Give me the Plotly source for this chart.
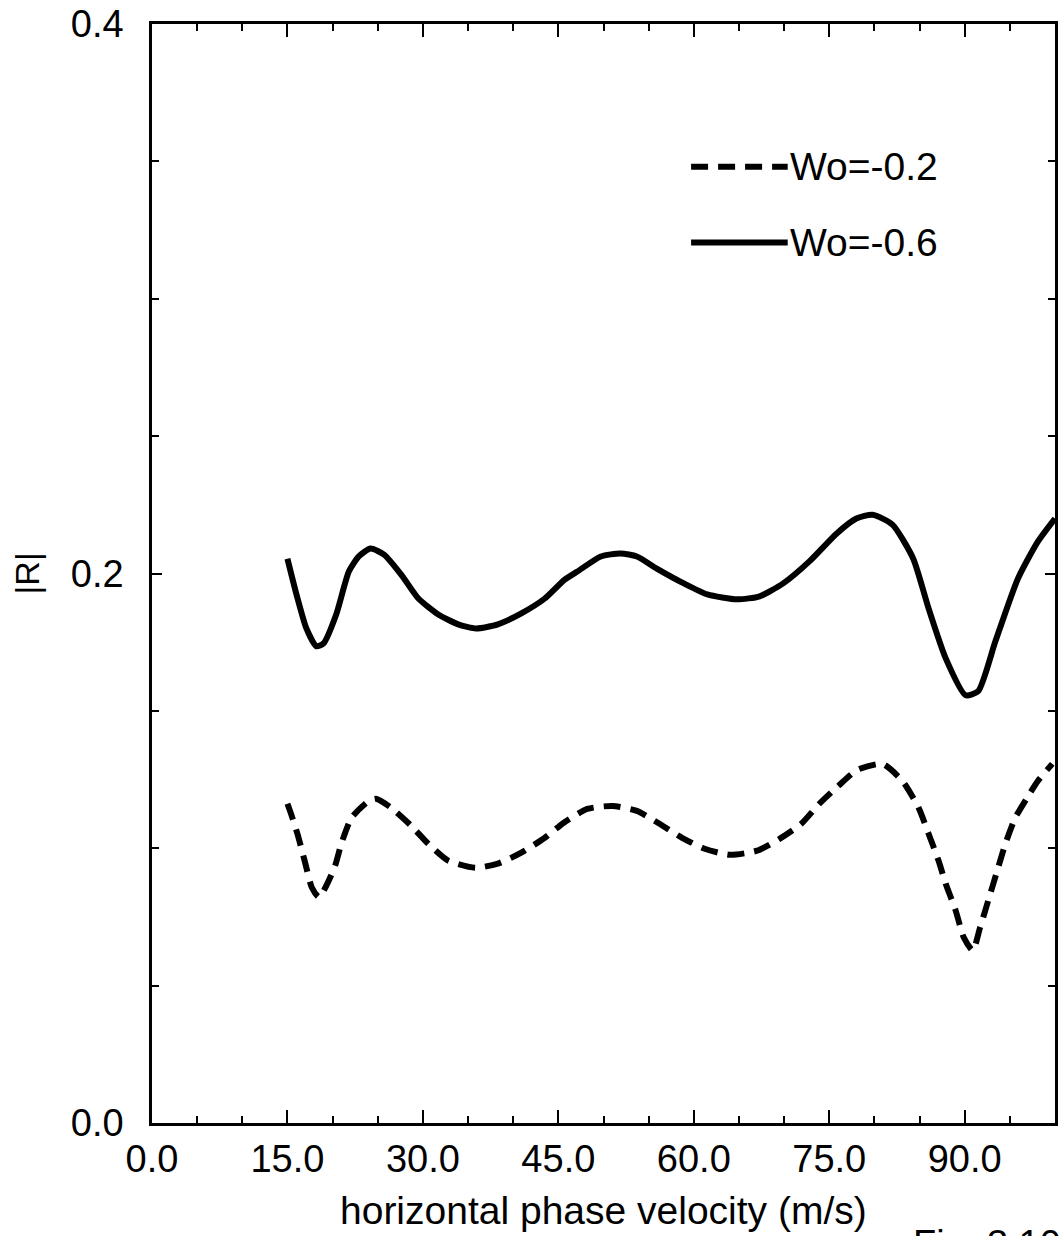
import plotly.graph_objects as go

# |R| versus horizontal phase velocity, two background vertical winds

# Wo = -0.2 (dashed)
v_dash = [15.0, 15.4, 16.1, 16.9, 17.7, 18.5, 20.2, 21.0, 22.1, 24.0,
          24.8, 26.5, 28.7, 30.6, 32.8, 35.8, 38.3, 40.9, 43.5, 45.6,
          48.2, 51.0, 53.7, 56.2, 58.7, 61.2, 64.0, 67.0, 69.5, 71.9,
          73.9, 76.0, 78.1, 80.9, 83.1, 84.9, 86.0, 87.1, 87.9, 89.0,
          89.9, 90.9, 91.7, 92.6, 93.6, 94.5, 95.6, 96.9, 98.1, 99.7]
r_dash = [0.1162, 0.1125, 0.1053, 0.0955, 0.0857, 0.0822, 0.0929, 0.1020, 0.1111, 0.1172,
          0.1180, 0.1147, 0.1082, 0.1016, 0.0955, 0.0929, 0.0944, 0.0984, 0.1038, 0.1093,
          0.1143, 0.1154, 0.1136, 0.1089, 0.1038, 0.0998, 0.0976, 0.0991, 0.1034, 0.1089,
          0.1162, 0.1227, 0.1285, 0.1307, 0.1245, 0.1147, 0.1053, 0.0955, 0.0871, 0.0773,
          0.0675, 0.0628, 0.0711, 0.0809, 0.0918, 0.1016, 0.1111, 0.1183, 0.1245, 0.1307]

# Wo = -0.6 (solid)
v_solid = [15.0, 16.0, 17.1, 18.2, 19.0, 20.4, 21.8, 22.9, 24.2, 25.7,
           27.6, 29.5, 31.7, 33.9, 35.9, 38.3, 40.9, 43.5, 45.7, 47.1,
           49.7, 51.9, 53.7, 55.9, 58.9, 61.5, 64.8, 67.3, 69.9, 72.8,
           75.8, 78.0, 79.8, 82.0, 84.3, 86.0, 87.9, 90.1, 91.5, 93.4,
           95.9, 98.1, 100.0]
r_solid = [0.2054, 0.1924, 0.1800, 0.1735, 0.1746, 0.1851, 0.2007, 0.2062, 0.2091, 0.2069,
           0.1996, 0.1909, 0.1851, 0.1815, 0.1800, 0.1815, 0.1855, 0.1909, 0.1978, 0.2007,
           0.2062, 0.2073, 0.2062, 0.2018, 0.1964, 0.1924, 0.1906, 0.1917, 0.1964, 0.2044,
           0.2145, 0.2200, 0.2214, 0.2178, 0.2054, 0.1873, 0.1691, 0.1557, 0.1572, 0.1753,
           0.1982, 0.2116, 0.2200]

series_names = ["Wo=-0.2", "Wo=-0.6"]

x_ticks = [0, 15, 30, 45, 60, 75, 90]
x_labels = ["0.0", "15.0", "30.0", "45.0", "60.0", "75.0", "90.0"]
y_ticks = [0.0, 0.2, 0.4]
y_labels = ["0.0", "0.2", "0.4"]

FONT = "Liberation Sans, Arial, Helvetica, sans-serif"
DASH = "17px,10px"

fig = go.Figure()
fig.add_trace(go.Scatter(x=v_dash, y=r_dash, mode="lines", name=series_names[0],
                         line=dict(color="black", width=6, dash=DASH,
                                   shape="spline", smoothing=0.6)))
fig.add_trace(go.Scatter(x=v_solid, y=r_solid, mode="lines", name=series_names[1],
                         line=dict(color="black", width=6,
                                   shape="spline", smoothing=0.6)))

# in-plot key
key_x0, key_x1 = 59.7, 70.4
key_y = [0.348, 0.3205]
for name, yk, dash in zip(series_names, key_y, [DASH, "solid"]):
    fig.add_shape(type="line", xref="x", yref="y", x0=key_x0, x1=key_x1, y0=yk, y1=yk,
                  line=dict(color="black", width=6, dash=dash))
    fig.add_annotation(x=key_x1, y=yk, xref="x", yref="y", text=name, showarrow=False,
                       xanchor="left", yanchor="middle", xshift=0,
                       font=dict(family=FONT, size=39, color="black"))

# axis titles
fig.add_annotation(x=0.5, y=0, xref="paper", yref="paper",
                   text="horizontal phase velocity (m/s)", showarrow=False,
                   xanchor="center", yanchor="middle", yshift=-87,
                   font=dict(family=FONT, size=39, color="black"))
fig.add_annotation(x=0, y=0.5, xref="paper", yref="paper", text="|R|",
                   showarrow=False, textangle=-90, xanchor="center", yanchor="middle",
                   xshift=-126, font=dict(family=FONT, size=34, color="black"))
fig.add_annotation(x=0.84, y=0, xref="paper", yref="paper", text="Fig. 3.10",
                   showarrow=False, xanchor="left", yanchor="top", yshift=-98,
                   font=dict(family=FONT, size=38, color="black"))

fig.update_layout(
    width=1061, height=1236,
    margin=dict(l=152, r=3, t=22, b=113),
    paper_bgcolor="white", plot_bgcolor="white",
    showlegend=False,
    font=dict(family=FONT, color="black"),
    xaxis=dict(range=[0, 100], tickmode="array", tickvals=x_ticks, ticktext=x_labels,
               ticks="inside", ticklen=13, tickwidth=2, tickcolor="black",
               minor=dict(dtick=5, tick0=0, ticks="inside", ticklen=7, tickwidth=2,
                          tickcolor="black", showgrid=False),
               showline=True, linewidth=2.5, linecolor="black", mirror="ticks",
               showgrid=False, zeroline=False, ticklabelstandoff=1,
               tickfont=dict(family=FONT, size=38, color="black")),
    yaxis=dict(range=[0, 0.4], tickmode="array", tickvals=y_ticks, ticktext=y_labels,
               ticks="inside", ticklen=10, tickwidth=2, tickcolor="black",
               minor=dict(dtick=0.05, tick0=0, ticks="inside", ticklen=7, tickwidth=2,
                          tickcolor="black", showgrid=False),
               showline=True, linewidth=2.5, linecolor="black", mirror="ticks",
               showgrid=False, zeroline=False, ticklabelstandoff=18,
               tickfont=dict(family=FONT, size=38, color="black")),
)

fig.write_html("out.html")
